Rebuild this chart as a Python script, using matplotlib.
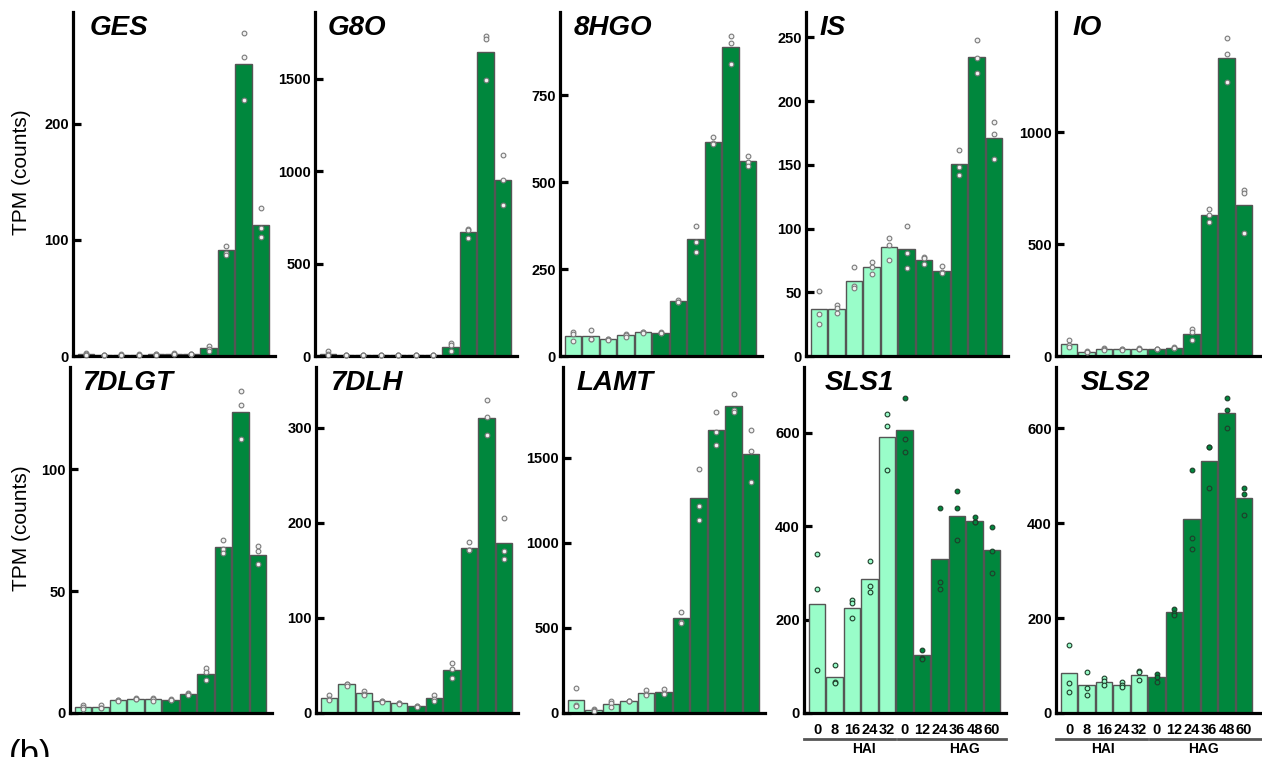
"""TPM of MIA pathway genes over the HAI / HAG time course -> out.png.

Ten bar panels (two rows of five), mean per time point with the three
replicates overlaid as dots. Light bars = HAI, dark bars = HAG.
"""

import matplotlib

matplotlib.use("Agg")
import matplotlib.pyplot as plt
from matplotlib.transforms import blended_transform_factory

plt.rcParams["font.family"] = ["Liberation Sans", "DejaVu Sans"]

TIMES = ["0", "8", "16", "24", "32", "0", "12", "24", "36", "48", "60"]
N_HAI = 5

GES_MEAN = [2, 1, 1, 1, 1.5, 2, 2, 6.5, 91, 251, 113]
GES_REPS = [[3, 2, 1], [1, 1, 1], [1.5, 1, 1], [1.5, 1, 1], [2, 1.5, 1], [2.5, 2, 1.5],
            [2, 2, 2], [9, 6, 4], [95, 89, 87], [278, 257, 220], [127, 110, 102]]

G8O_MEAN = [10, 5, 5, 5, 5, 4, 4, 49, 670, 1645, 951]
G8O_REPS = [[27, 13, 5], [6, 5, 4], [6, 5, 5], [7, 5, 4], [6, 5, 4], [5, 4, 4], [5, 4, 4],
            [72, 60, 27], [688, 679, 640], [1730, 1712, 1495], [1087, 951, 817]]

HGO8_MEAN = [58, 58, 48, 60, 68, 67, 157, 336, 617, 888, 561]
HGO8_REPS = [[68, 63, 42], [75, 50, 48], [49, 48, 47], [64, 60, 56], [69, 68, 67],
             [68, 67, 66], [162, 156, 154], [375, 329, 300], [630, 614, 609],
             [922, 900, 841], [575, 558, 546]]

IS_MEAN = [36.5, 36.8, 59, 70, 85.4, 84.3, 75.7, 67, 150.6, 235, 171]
IS_REPS = [[51, 33, 25], [40, 38, 34], [70, 55, 53], [74, 70, 64], [93, 87, 75],
           [102, 81, 69], [78, 77, 72], [71, 66, 65], [162, 148, 142], [248, 234, 222],
           [184, 174, 155]]

IO_MEAN = [54, 19, 30, 30, 33, 31, 37, 98, 629, 1331, 674]
IO_REPS = [[72, 48, 42], [22, 18, 17], [34, 30, 28], [31, 30, 29], [34, 33, 32],
           [33, 31, 30], [40, 37, 35], [119, 109, 72], [657, 630, 600],
           [1420, 1350, 1222], [742, 727, 551]]

DLGT7_MEAN = [2.5, 2.5, 5.2, 5.9, 5.6, 5.5, 7.7, 16.2, 68, 123.5, 64.8]
DLGT7_REPS = [[3.2, 2.5, 1.8], [3.2, 2.2, 2.1], [5.3, 5.2, 5.1], [6, 5.9, 5.8],
              [6.2, 5.6, 5], [5.6, 5.5, 5.4], [8.3, 7.6, 7.2], [18.6, 16.9, 13.5],
              [70.8, 67.3, 65.8], [132, 126.5, 112.5], [68.6, 66.5, 61]]

DLH7_MEAN = [16, 30, 20.6, 12.4, 10, 7.1, 15.3, 45.4, 174, 310.6, 179]
DLH7_REPS = [[18.5, 15, 14.2], [31, 30, 28.4], [23, 19.5, 19], [13, 12.4, 12],
             [10.5, 10, 9.5], [7.8, 7, 6.5], [18.5, 15, 13], [53, 46, 37],
             [180, 171, 171], [329, 311, 292], [205, 170, 162]]

LAMT_MEAN = [74.5, 17.6, 55, 70.6, 117.6, 123.5, 557, 1265, 1665, 1808, 1521]
LAMT_REPS = [[147, 49, 43], [24, 16, 13], [70, 59, 35], [71, 71, 70], [133, 114, 106],
             [141, 118, 112], [594, 537, 529], [1435, 1220, 1137], [1769, 1655, 1578],
             [1876, 1780, 1769], [1663, 1543, 1361]]

SLS1_MEAN = [233, 77.6, 225, 286, 591.5, 607, 124, 329, 422, 411, 349]
SLS1_REPS = [[340, 266, 93], [102, 66, 65], [241, 236, 203], [325, 273, 260],
             [640, 614, 520], [675, 587, 560], [135, 118, 116], [440, 280, 266],
             [476, 440, 370], [419, 408, 408], [399, 347, 300]]

SLS2_MEAN = [83.4, 59, 66, 59, 80.6, 75, 212, 409, 532, 633, 452]
SLS2_REPS = [[143, 63, 45], [87, 52, 38], [73, 67, 58], [66, 58, 55], [89, 87, 70],
             [82, 75, 66], [219, 210, 207], [512, 368, 345], [561, 560, 475],
             [663, 638, 601], [475, 462, 418]]

LIGHT = "#99fdc9"
DARK = "#00873d"
EDGE = "#555555"

W, H = 1262, 757
PX_PER_BAR = 17.5

# name, means, reps, yticks, ymax, spine x [px], width [px], title dx [px], row
PANELS = [
    ("GES", GES_MEAN, GES_REPS, [0, 100, 200], 296, 73, 202, 17, 0),
    ("G8O", G8O_MEAN, G8O_REPS, [0, 500, 1000, 1500], 1860, 315, 202, 13, 0),
    ("8HGO", HGO8_MEAN, HGO8_REPS, [0, 250, 500, 750], 990, 560, 202, 14, 0),
    ("IS", IS_MEAN, IS_REPS, [0, 50, 100, 150, 200, 250], 270, 806, 202, 14, 0),
    ("IO", IO_MEAN, IO_REPS, [0, 500, 1000], 1536, 1056, 206, 17, 0),
    ("7DLGT", DLGT7_MEAN, DLGT7_REPS, [0, 50, 100], 142, 70, 202, 12, 1),
    ("7DLH", DLH7_MEAN, DLH7_REPS, [0, 100, 200, 300], 364, 316, 202, 14, 1),
    ("LAMT", LAMT_MEAN, LAMT_REPS, [0, 500, 1000, 1500], 2035, 563, 202, 14, 1),
    ("SLS1", SLS1_MEAN, SLS1_REPS, [0, 200, 400, 600], 741, 804, 202, 21, 1),
    ("SLS2", SLS2_MEAN, SLS2_REPS, [0, 200, 400, 600], 729, 1056, 206, 25, 1),
]
ROWS = [(12, 356), (367, 713)]  # top, bottom [px]
# centre of the HAI / HAG group labels in bar units, only on the SLS panels
GROUP_LABEL_X = {"SLS1": (2.7, 8.4), "SLS2": (1.95, 7.7)}


def draw_panel(fig, name, means, reps, yticks, ymax, x0, width, title_dx, row):
    top, bottom = ROWS[row]
    ax = fig.add_axes([x0 / W, 1 - bottom / H, width / W, (bottom - top) / H])
    n = len(means)
    xs = list(range(n))
    colors = [LIGHT if i < N_HAI else DARK for i in xs]
    ax.bar(xs, means, width=0.94, color=colors, edgecolor=EDGE, lw=1.0, zorder=2)

    sls = name.startswith("SLS")
    for i, r in enumerate(reps):
        fc = colors[i] if sls else "#f2f2f2"
        ec = "#1f3d2a" if sls else "#7a7a7a"
        ax.plot([i] * len(r), r, "o", ms=3.4, mfc=fc, mec=ec, mew=0.8, zorder=3,
                clip_on=False)

    xmin = -0.75
    ax.set_xlim(xmin, xmin + width / PX_PER_BAR)
    ax.set_ylim(0, ymax)
    ax.set_yticks(yticks)
    for s in ("top", "right"):
        ax.spines[s].set_visible(False)
    for s in ("left", "bottom"):
        ax.spines[s].set_linewidth(2.3)
    ax.tick_params(axis="y", direction="in", length=6, width=2.3, labelsize=10.5, pad=3)
    for lbl in ax.get_yticklabels():
        lbl.set_fontweight("bold")

    if sls:
        ax.set_xticks(xs)
        ax.set_xticklabels(TIMES, fontsize=10.5, fontweight="bold")
        ax.tick_params(axis="x", length=0, pad=7)
        trans = blended_transform_factory(ax.transData, ax.transAxes)
        y_line = -26 / (bottom - top)
        y_text = -36 / (bottom - top)
        ax.plot([xmin, N_HAI - 0.55], [y_line] * 2, color="#555555", lw=2.0,
                transform=trans, clip_on=False)
        ax.plot([N_HAI - 0.4, xmin + width / PX_PER_BAR], [y_line] * 2, color="#555555",
                lw=2.0, transform=trans, clip_on=False)
        for gx, g in zip(GROUP_LABEL_X[name], ("HAI", "HAG")):
            ax.text(gx, y_text, g, transform=trans, ha="center", va="center",
                    fontsize=10, fontweight="bold")
    else:
        ax.set_xticks([])

    ax.text(title_dx / width, 1 - 3 / (bottom - top), name, transform=ax.transAxes,
            ha="left", va="top", fontsize=20, fontweight="bold", style="italic")
    return ax


fig = plt.figure(figsize=(W / 100, H / 100), dpi=100)
for spec in PANELS:
    draw_panel(fig, *spec)

for yc in (172, 528):
    fig.text(22 / W, 1 - yc / H, "TPM (counts)", rotation=90, ha="center", va="center",
             fontsize=15)
# panel letter of the next figure part, clipped by the bottom edge as in the source
fig.text(9 / W, 1 - 739 / H, "(b)", ha="left", va="top", fontsize=25)

fig.savefig("out.png", dpi=100)
plt.close(fig)
